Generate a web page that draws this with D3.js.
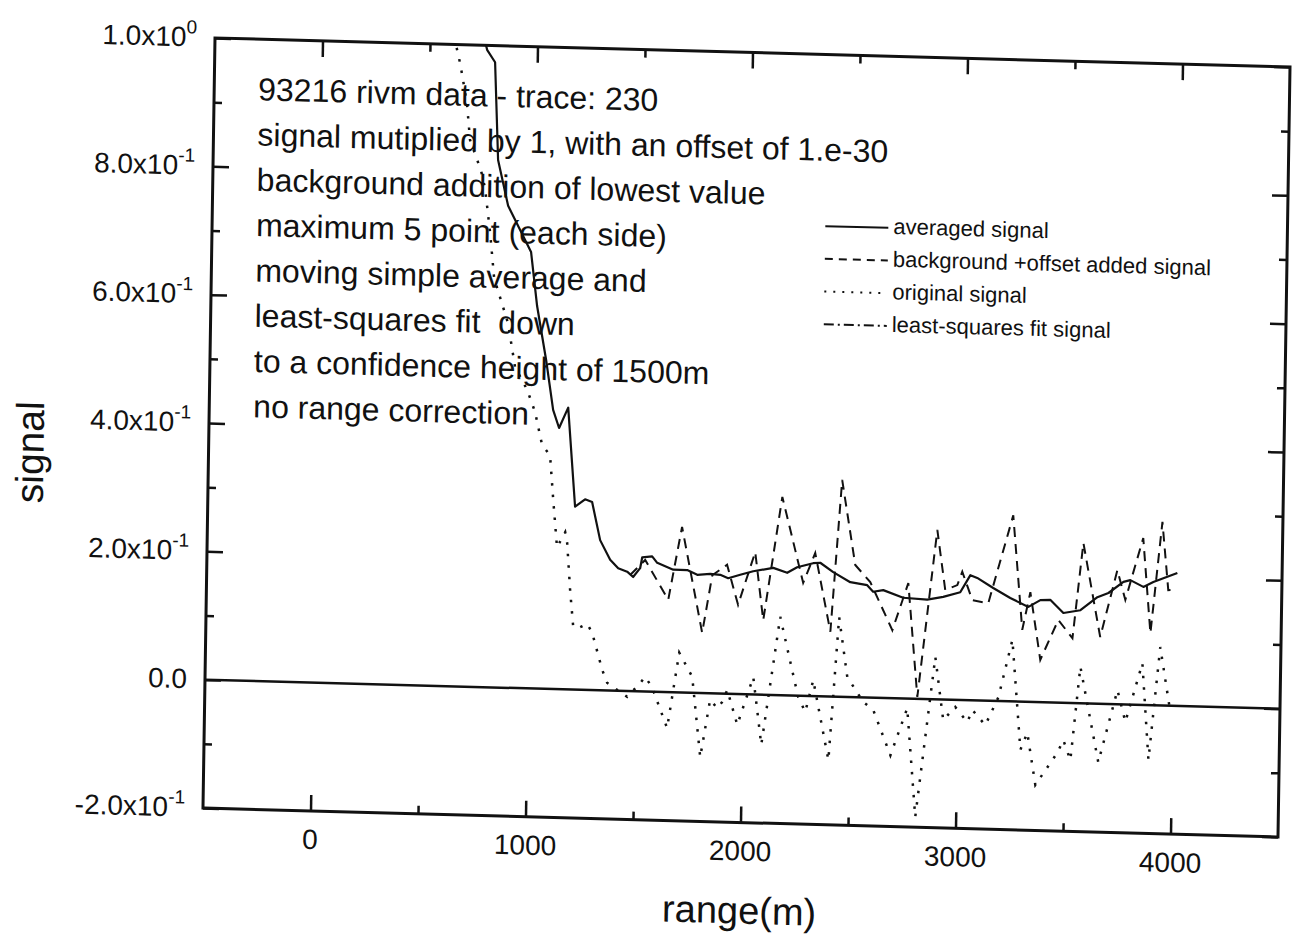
<!DOCTYPE html>
<html>
<head>
<meta charset="utf-8">
<script src="https://cdn.jsdelivr.net/npm/d3@7"></script>
<style>
    body { margin: 0; background: #fff; }
    text { font-family: "Liberation Sans", Arial, sans-serif; fill: #111; }
</style>
</head>
<body>
<div id="chart"></div>
<script>
// averaged signal (solid)
const avgRange = [745, 766, 804, 825, 875, 985, 1017, 1063, 1099, 1128, 1169, 1208, 1254, 1287, 1327, 1375, 1413, 1455, 1483, 1515,
    1524, 1570, 1594, 1669, 1734, 1781, 1841, 1888, 1925, 1981, 2041, 2134, 2199, 2245, 2319, 2352, 2413, 2493, 2572, 2600,
    2647, 2740, 2852, 2926, 3005, 3051, 3083, 3158, 3238, 3323, 3378, 3424, 3486, 3565, 3643, 3694, 3763, 3795, 3856, 3902, 4013];
const avgSignal = [1.02, 0.993, 0.974, 0.822, 0.751, 0.680, 0.596, 0.512, 0.435, 0.407, 0.439, 0.285, 0.297, 0.293, 0.234, 0.204, 0.191, 0.186, 0.178, 0.192,
    0.209, 0.211, 0.201, 0.191, 0.191, 0.184, 0.186, 0.185, 0.180, 0.186, 0.192, 0.198, 0.191, 0.200, 0.207, 0.208, 0.194, 0.179, 0.175, 0.165,
    0.168, 0.157, 0.155, 0.160, 0.168, 0.195, 0.191, 0.176, 0.161, 0.148, 0.159, 0.160, 0.140, 0.145, 0.166, 0.173, 0.191, 0.194, 0.184, 0.192, 0.207];

// background + offset added signal (dashed)
const bgRange = [1469, 1538, 1648, 1707, 1808, 1851, 1919, 1973, 2049, 2091, 2171, 2274, 2328, 2404, 2448, 2515, 2586, 2692, 2763, 2813,
    2894, 2935, 2991, 3013, 3062, 3136, 3246, 3296, 3331, 3382, 3463, 3530, 3574, 3659, 3734, 3773, 3852, 3892, 3940, 3972, 4014];
const bgSignal = [0.181, 0.205, 0.144, 0.258, 0.094, 0.184, 0.201, 0.139, 0.222, 0.116, 0.309, 0.176, 0.223, 0.101, 0.338, 0.206, 0.180, 0.106, 0.180, 0.003,
    0.264, 0.171, 0.179, 0.200, 0.156, 0.152, 0.290, 0.112, 0.171, 0.066, 0.129, 0.101, 0.250, 0.104, 0.209, 0.163, 0.260, 0.112, 0.286, 0.180, 0.181];

// original signal (dotted)
const origRange = [605, 621, 636, 652, 677, 693, 747, 766, 793, 815, 883, 919, 977, 1015, 1050, 1088, 1106, 1127, 1164, 1174,
    1191, 1208, 1231, 1273, 1297, 1346, 1370, 1464, 1524, 1546, 1579, 1652, 1703, 1765, 1808, 1850, 1884, 1906, 1929, 1978,
    2049, 2091, 2170, 2259, 2293, 2328, 2404, 2444, 2486, 2562, 2609, 2692, 2767, 2812, 2894, 2935, 2990, 3047, 3070, 3131,
    3190, 3251, 3296, 3327, 3368, 3468, 3495, 3529, 3569, 3659, 3743, 3782, 3857, 3892, 3939, 3991];
const origSignal = [1.03, 0.999, 0.979, 0.953, 0.906, 0.852, 0.804, 0.778, 0.709, 0.638, 0.568, 0.500, 0.465, 0.431, 0.380, 0.364, 0.295, 0.221, 0.245, 0.228,
    0.155, 0.098, 0.096, 0.103, 0.089, 0.032, 0.012, -0.009, 0.013, 0.023, 0.007, -0.056, 0.062, 0.025, -0.100, -0.010, -0.023, -0.013, 0.006, -0.048,
    0.027, -0.078, 0.122, -0.002, -0.025, 0.025, -0.099, 0.124, 0.031, -0.007, -0.019, -0.089, -0.015, -0.184, 0.066, -0.032, -0.011, -0.034, -0.015, -0.038,
    0.006, 0.096, -0.075, -0.048, -0.129, -0.078, -0.058, -0.089, 0.057, -0.091, 0.022, -0.027, 0.065, -0.085, 0.091, -0.011];

// ticks and labels
const xMajorTicks = [0, 1000, 2000, 3000, 4000];
const xMinorTicks = [500, 1500, 2500, 3500];
const yMajorTicks = [-0.2, 0, 0.2, 0.4, 0.6, 0.8, 1.0];
const yMinorTicks = [-0.1, 0.1, 0.3, 0.5, 0.7, 0.9];
const yTickMantissa = ["-2.0x10", "0.0", "2.0x10", "4.0x10", "6.0x10", "8.0x10", "1.0x10"];
const yTickExponent = ["-1", "", "-1", "-1", "-1", "-1", "0"];

const noteLines = [
    "93216 rivm data - trace: 230",
    "signal mutiplied by 1, with an offset of 1.e-30",
    "background addition of lowest value",
    "maximum 5 point (each side)",
    "moving simple average and",
    "least-squares fit  down",
    "to a confidence height of 1500m",
    "no range correction"
];
const legendLabels = ["averaged signal", "background +offset added signal", "original signal", "least-squares fit signal"];
const legendDash = ["none", "8,6", "2,7", "10,4,2,4"];

drawChart();

function drawChart() {
    const W = 1075, H = 770;

    const svg = d3.select("#chart").append("svg")
        .attr("width", 1295)
        .attr("height", 943)
        .style("display", "block");

    svg.append("rect").attr("width", 1295).attr("height", 943).attr("fill", "#fff");

    // the scanned page is slightly skewed, so the whole plot sits in a skewed frame
    const g = svg.append("g")
        .attr("transform", "matrix(1,0.027,-0.0156,1,215,38)");

    const x = d3.scaleLinear().domain([-500, 4500]).range([0, W]);
    const y = d3.scaleLinear().domain([-0.2, 1.0]).range([H, 0]);

    // ticks, all pointing inward
    const tickAxes = [
        [d3.axisBottom(x), `translate(0,${H})`, xMajorTicks, xMinorTicks],
        [d3.axisTop(x), "translate(0,0)", xMajorTicks, xMinorTicks],
        [d3.axisLeft(y), "translate(0,0)", yMajorTicks, yMinorTicks],
        [d3.axisRight(y), `translate(${W},0)`, yMajorTicks, yMinorTicks]
    ];
    tickAxes.forEach(function (a) {
        [[a[2], 16], [a[3], 8]].forEach(function (t) {
            const ax = g.append("g")
                .attr("transform", a[1])
                .call(a[0].tickValues(t[0]).tickSize(-t[1]).tickFormat(""));
            ax.select(".domain").remove();
            ax.selectAll("line").attr("stroke", "#111").attr("stroke-width", 2.5);
        });
    });

    // frame
    g.append("rect")
        .attr("width", W)
        .attr("height", H)
        .attr("fill", "none")
        .attr("stroke", "#111")
        .attr("stroke-width", 3);

    // y tick labels
    yMajorTicks.forEach(function (v, i) {
        const t = g.append("text")
            .attr("x", -18)
            .attr("y", y(v) + 9)
            .attr("text-anchor", "end")
            .attr("font-size", 28)
            .text(yTickMantissa[i]);
        if (yTickExponent[i]) {
            t.append("tspan")
                .attr("dy", -13)
                .attr("font-size", 19)
                .text(yTickExponent[i]);
        }
    });

    // x tick labels
    g.selectAll(".x-label")
        .data(xMajorTicks)
        .enter().append("text")
        .attr("class", "x-label")
        .attr("x", d => x(d))
        .attr("y", H + 38)
        .attr("text-anchor", "middle")
        .attr("font-size", 28)
        .text(d => d);

    // axis titles
    g.append("text")
        .attr("x", W / 2)
        .attr("y", H + 101)
        .attr("text-anchor", "middle")
        .attr("font-size", 38)
        .text("range(m)");

    g.append("text")
        .attr("transform", "translate(-165,419) rotate(-90)")
        .attr("text-anchor", "middle")
        .attr("font-size", 39)
        .text("signal");

    // zero line
    g.append("line")
        .attr("x1", 0).attr("x2", W)
        .attr("y1", y(0)).attr("y2", y(0))
        .attr("stroke", "#111")
        .attr("stroke-width", 2.5);

    // data lines
    g.append("clipPath").attr("id", "plot-clip")
        .append("rect").attr("width", W).attr("height", H);

    const line = d3.line().x(d => x(d[0])).y(d => y(d[1]));
    const plot = g.append("g").attr("clip-path", "url(#plot-clip)");

    plot.append("path")
        .datum(d3.zip(origRange, origSignal))
        .attr("d", line)
        .attr("fill", "none")
        .attr("stroke", "#111")
        .attr("stroke-width", 2.5)
        .attr("stroke-dasharray", "2.5,9");

    plot.append("path")
        .datum(d3.zip(bgRange, bgSignal))
        .attr("d", line)
        .attr("fill", "none")
        .attr("stroke", "#111")
        .attr("stroke-width", 2)
        .attr("stroke-dasharray", "10,7");

    plot.append("path")
        .datum(d3.zip(avgRange, avgSignal))
        .attr("d", line)
        .attr("fill", "none")
        .attr("stroke", "#111")
        .attr("stroke-width", 2.2)
        .attr("stroke-linejoin", "round");

    // annotation block
    noteLines.forEach(function (s, i) {
        g.append("text")
            .attr("x", 44)
            .attr("y", 61 + i * 45.3)
            .attr("font-size", 32)
            .style("white-space", "pre")
            .text(s);
    });

    // legend
    legendLabels.forEach(function (s, i) {
        const ly = 177.6 + i * 32.7;
        g.append("line")
            .attr("x1", 613).attr("x2", 676)
            .attr("y1", ly - 6).attr("y2", ly - 6)
            .attr("stroke", "#111")
            .attr("stroke-width", 2)
            .attr("stroke-dasharray", legendDash[i]);
        g.append("text")
            .attr("x", 681)
            .attr("y", ly)
            .attr("font-size", 22)
            .text(s);
    });
}
</script>
</body>
</html>
